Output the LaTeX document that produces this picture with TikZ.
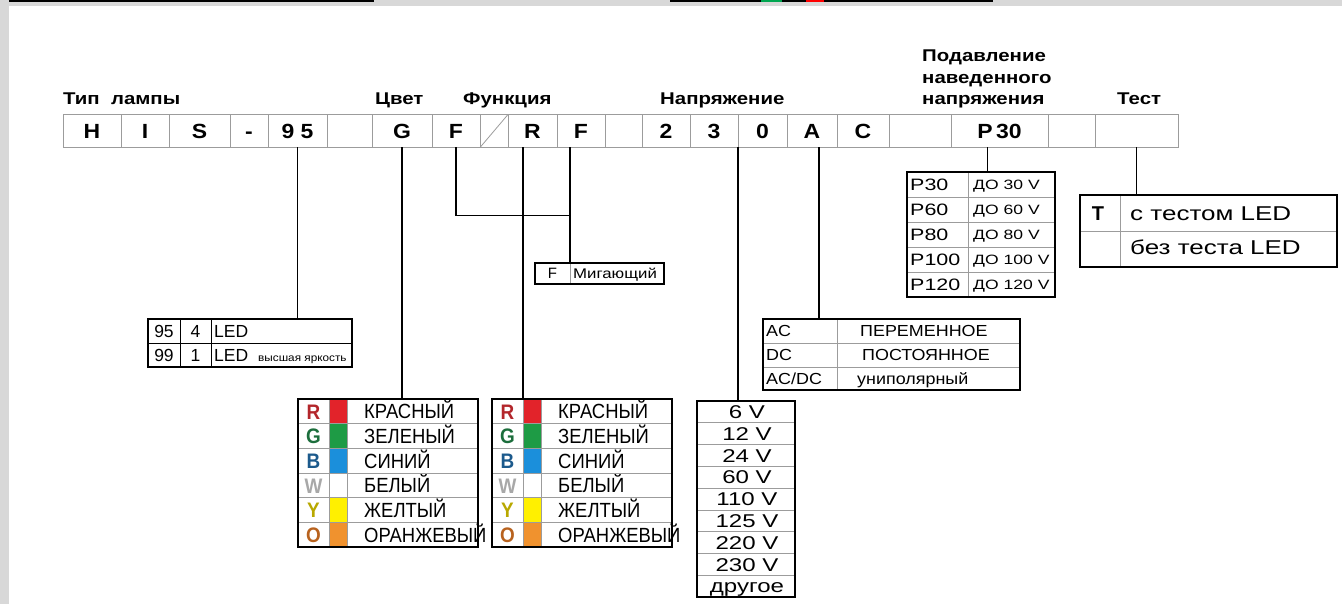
\documentclass[tikz,border=0pt]{standalone}
\usepackage{fontspec}
\setmainfont{Liberation Sans}
\newfontfamily\headfont[FakeStretch=1.2]{Liberation Sans}
\newfontfamily\widefont[FakeStretch=1.3]{Liberation Sans}
\newfontfamily\midfont[FakeStretch=1.12]{Liberation Sans}
\newfontfamily\narrowfont[FakeStretch=0.9]{Liberation Sans}
\usetikzlibrary{positioning,calc}
\definecolor{framegray}{HTML}{D8D8D8}
\definecolor{cellgray}{HTML}{9C9C9C}
\definecolor{swred}{HTML}{E2232A}
\definecolor{swgreen}{HTML}{1E9B45}
\definecolor{swblue}{HTML}{1B8FDB}
\definecolor{swyellow}{HTML}{FFF000}
\definecolor{sworange}{HTML}{F0922E}
\definecolor{ltred}{HTML}{B3262B}
\definecolor{ltgreen}{HTML}{1C6E3C}
\definecolor{ltblue}{HTML}{1C5A8C}
\definecolor{ltwhite}{HTML}{A8A8A8}
\definecolor{ltyellow}{HTML}{B8A800}
\definecolor{ltorange}{HTML}{B8621E}
\definecolor{barblack}{HTML}{000000}
\definecolor{bargreen}{HTML}{00A651}
\definecolor{barred}{HTML}{FF0000}

\begin{document}
\begin{tikzpicture}[x=1pt, y=-1pt,
	codecell/.style={rectangle, draw=cellgray, line width=.7pt, minimum height=33pt, inner sep=0pt, outer sep=0pt,
		text height=14.6pt, text depth=0pt, font=\midfont\fontsize{20.5}{22}\selectfont\bfseries},
	head/.style={anchor=base west, inner sep=0pt, font=\headfont\fontsize{17}{21}\selectfont\bfseries},
	tbl/.style={rectangle, draw, line width=1.6pt, inner sep=0pt, outer sep=0pt, anchor=north west},
	rule/.style={cellgray, line width=.6pt},
	darkrule/.style={black, line width=.7pt},
	link/.style={line width=1.2pt},
	txt/.style={inner sep=0pt, anchor=west, text depth=0pt},
	ctxt/.style={inner sep=0pt, anchor=center, text depth=0pt},
	btxt/.style={inner sep=0pt, anchor=base west},
	]
	% frame of the page
	\useasboundingbox (0,0) rectangle (1342,604);
	\fill[white] (0,0) rectangle (1342,604);
	\fill[framegray] (0,0) rectangle (1342,6);
	\fill[framegray] (0,0) rectangle (8.5,604);
	\fill[barblack] (8.5,0) rectangle (374,2.5);
	\fill[barblack] (670,0) rectangle (993,2.5);
	\fill[bargreen] (761,0) rectangle (782,2.5);
	\fill[barred] (806,0) rectangle (824,2.5);

	% headings
	\node[head] (hType) at (63,105) {Тип\ \ лампы};
	\node[head] (hColor) at (375,105) {Цвет};
	\node[head] (hFunc) at (463,105) {Функция};
	\node[head] (hVolt) at (660,105) {Напряжение};
	\node[head] (hSupp1) at (922,62) {Подавление};
	\node[head] (hSupp2) at (922,84) {наведенного};
	\node[head] (hSupp3) at (922,105) {напряжения};
	\node[head] (hTest) at (1117,105) {Тест};

	% code row
	\foreach \l/\r/\t/\n in {63/121/H/cH, 121/169/I/cI, 169/230/S/cS, 230/268/-/cDash, 268/327/{9\ 5}/c95,
		327/372/{}/cGapA, 372/432/G/cG, 432/480/F/cF, 480/508/{}/cSlash, 508/557/R/cR, 557/605/F/cFF,
		605/642/{}/cGapB, 642/690/2/cTwo, 690/738/3/cThree, 738/787/0/cZero, 787/837/A/cA, 837/889/C/cC,
		889/951/{}/cGapC, 951/1048/{P\,30}/cP, 1048/1095/{}/cGapD, 1095/1178/{}/cT}
		\node[codecell, minimum width={\r-\l}] (\n) at ({(\l+\r)/2},131) {\t};
	\draw[cellgray, line width=.8pt] (cSlash.south west) -- (cSlash.north east);

	% lamp type table
	\draw[darkrule] (148,343) -- (352,343);
	\draw[darkrule] (180,319) -- (180,367);
	\draw[darkrule] (211,319) -- (211,367);
	\begin{scope}[font=\fontsize{17.5}{19}\selectfont]
		\node[btxt, anchor=base] (led95) at (164,337.5) {95};
		\node[btxt, anchor=base] (led4) at (195.5,337.5) {4};
		\node[btxt] (ledA) at (214,337.5) {LED};
		\node[btxt, anchor=base] (led99) at (164,361.5) {99};
		\node[btxt, anchor=base] (led1) at (195.5,361.5) {1};
		\node[btxt] (ledB) at (214,361.5) {LED};
	\end{scope}
	\node[btxt, font=\midfont\fontsize{10.5}{12}\selectfont] (ledBright) at (258,361.5) {высшая яркость};
	\node[tbl, minimum width=204pt, minimum height=48pt] (led) at (148,319) {};

	% colour tables
	\foreach \tx/\nm in {298/colA, 492/colB}{
		\foreach \ltr/\lc/\sw/\word [count=\i from 0] in {R/ltred/swred/КРАСНЫЙ, G/ltgreen/swgreen/ЗЕЛЕНЫЙ,
			B/ltblue/swblue/СИНИЙ, W/ltwhite/white/БЕЛЫЙ, Y/ltyellow/swyellow/ЖЕЛТЫЙ, O/ltorange/sworange/ОРАНЖЕВЫЙ}{
			\fill[\sw] (\tx+31,399+\i*24.67) rectangle (\tx+49,399+\i*24.67+24.67);
			\node[ctxt, text height=15pt, text=\lc, font=\narrowfont\fontsize{21}{23}\selectfont\bfseries] (\nm-l\i) at (\tx+15.5,399+\i*24.67+12.6) {\ltr};
			\node[txt, text height=14.7pt, font=\narrowfont\fontsize{20.5}{22}\selectfont] (\nm-t\i) at (\tx+66,399+\i*24.67+12.6) {\word};
		}
		\foreach \i in {1,...,5}
			\draw[rule] (\tx,399+\i*24.67) -- (\tx+180,399+\i*24.67);
		\draw[rule] (\tx+31,399) -- (\tx+31,547);
		\draw[rule] (\tx+49,399) -- (\tx+49,547);
		\node[tbl, minimum width=180pt, minimum height=148pt] (\nm) at (\tx,399) {};
	}

	% function table
	\draw[rule] (570,263) -- (570,284);
	\node[ctxt, text height=10.7pt, font=\fontsize{15}{17}\selectfont] (blinkF) at (552.5,273.5) {F};
	\node[txt, text height=10pt, font=\headfont\fontsize{14}{16}\selectfont] (blinkT) at (573,273.5) {Мигающий};
	\node[tbl, minimum width=129pt, minimum height=21pt] (blink) at (535,263) {};

	% voltage table
	\foreach \v [count=\i from 0] in {6 V, 12 V, 24 V, 60 V, 110 V, 125 V, 220 V, 230 V, другое}
		\node[ctxt, text height=13.2pt, font=\widefont\fontsize{18.5}{21}\selectfont] (volt\i) at (747,401+\i*21.78+11) {\v};
	\foreach \i in {1,...,8}
		\draw[rule] (697,401+\i*21.78) -- (795,401+\i*21.78);
	\node[tbl, minimum width=98pt, minimum height=196pt] (vt) at (697,401) {};

	% current type table
	\draw[rule] (763,343) -- (1020,343);
	\draw[rule] (763,367) -- (1020,367);
	\draw[rule] (837,319) -- (837,390);
	\begin{scope}[font=\midfont\fontsize{16}{18}\selectfont, text height=11.5pt]
		\node[txt] (acA) at (766,331) {AC};
		\node[txt] (acB) at (860,331) {ПЕРЕМЕННОЕ};
		\node[txt] (dcA) at (766,355) {DC};
		\node[txt] (dcB) at (862,355) {ПОСТОЯННОЕ};
		\node[txt] (acdcA) at (766,378.5) {AC/DC};
		\node[txt] (acdcB) at (857,378.5) {униполярный};
	\end{scope}
	\node[tbl, minimum width=257pt, minimum height=71pt] (ac) at (763,319) {};

	% suppression table
	\foreach \p/\d [count=\i from 0] in {P30/ДО 30 V, P60/ДО 60 V, P80/ДО 80 V, P100/ДО 100 V, P120/ДО 120 V}{
		\node[txt, text height=12.2pt, font=\widefont\fontsize{16.5}{19}\selectfont] (pk\i) at (910,172+\i*25+12.5) {\p};
		\node[txt, text height=9.7pt, font=\widefont\fontsize{13.5}{15}\selectfont] (pv\i) at (973,172+\i*25+12.5) {\d};
	}
	\foreach \i in {1,...,4}
		\draw[rule] (907,172+\i*25) -- (1055,172+\i*25);
	\draw[rule] (968,172) -- (968,297);
	\node[tbl, minimum width=148pt, minimum height=125pt] (ptab) at (907,172) {};

	% test table
	\draw[rule] (1080,231) -- (1337,231);
	\draw[rule] (1120,195) -- (1120,267);
	\node[ctxt, text height=14.3pt, font=\fontsize{20}{22}\selectfont\bfseries] (tKey) at (1098,213) {T};
	\node[txt, text height=14.3pt, font=\widefont\fontsize{20}{22}\selectfont] (tYes) at (1130,213) {с тестом LED};
	\node[txt, text height=14.3pt, font=\widefont\fontsize{20}{22}\selectfont] (tNo) at (1130,247) {без теста LED};
	\node[tbl, minimum width=257pt, minimum height=72pt] (ttab) at (1080,195) {};

	% connectors
	\draw[link] (c95.south) -- (c95.south |- led.north);
	\draw[link] (cG.south) -- (cG.south |- colA.north);
	\draw[link] (cF.south) -- ++(0,68) -| ([xshift=-11pt]cFF.south);
	\draw[link] ([xshift=-11pt]cFF.south) -- ([xshift=-11pt]cFF.south |- blink.north);
	\draw[link] ([xshift=-9.5pt]cR.south) -- ([xshift=-9.5pt]cR.south |- colB.north);
	\draw[link] (cThree.south east) -- (cThree.south east |- vt.north);
	\draw[link] ([xshift=7pt]cA.south) -- ([xshift=7pt]cA.south |- ac.north);
	\draw[link] ([xshift=-12pt]cP.south) -- ([xshift=-12pt]cP.south |- ptab.north);
	\draw[link] (cT.south) -- (cT.south |- ttab.north);
\end{tikzpicture}
\end{document}
